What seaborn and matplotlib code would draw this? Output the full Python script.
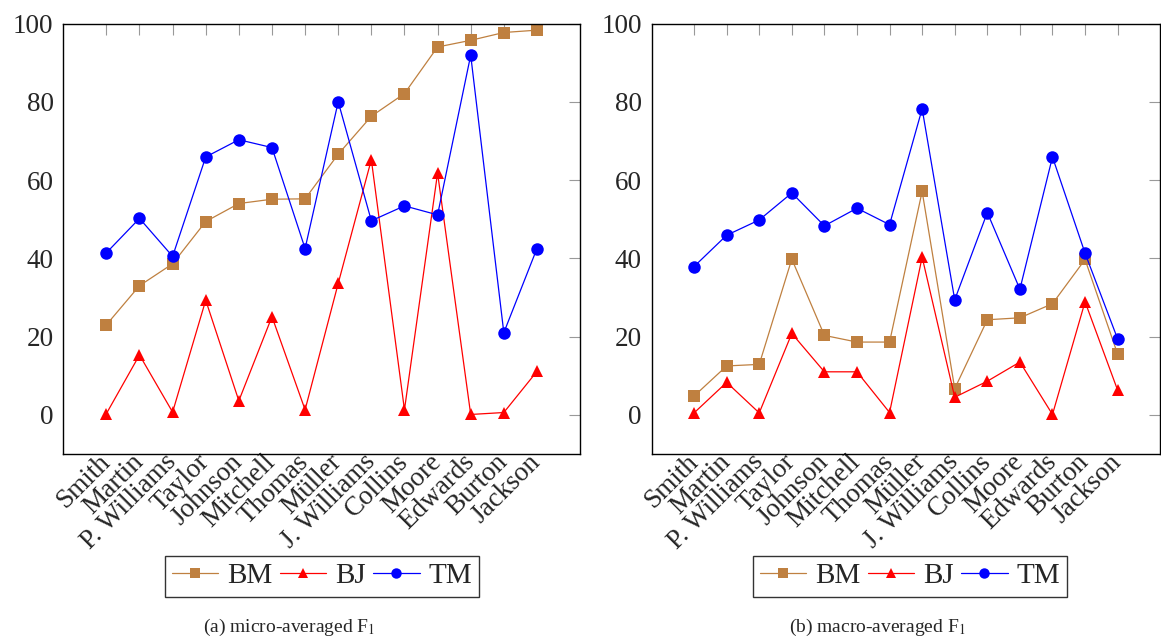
import numpy as np
import pandas as pd
import seaborn as sns
import matplotlib.pyplot as plt
from matplotlib.lines import Line2D

sns.set_style("white")
plt.rcParams['font.family'] = ['Liberation Serif', 'DejaVu Serif']
plt.rcParams['mathtext.fontset'] = 'stix'

# dados
nomes = ['Smith', 'Martin', 'P. Williams', 'Taylor', 'Johnson', 'Mitchell', 'Thomas',
         'Müller', 'J. Williams', 'Collins', 'Moore', 'Edwards', 'Burton', 'Jackson']

micro_bm = [23.0, 33.0, 38.6, 49.4, 54.0, 55.1, 55.2, 66.6, 76.3, 82.1, 94.0, 95.7, 97.7, 98.3]
micro_bj = [0.3, 15.3, 0.7, 29.3, 3.6, 25.1, 1.3, 33.6, 65.2, 1.3, 61.8, 0.1, 0.6, 11.1]
micro_tm = [41.4, 50.2, 40.5, 65.9, 70.3, 68.3, 42.5, 80.0, 49.6, 53.4, 51.1, 91.9, 21.0, 42.5]

macro_bm = [4.8, 12.5, 12.9, 39.8, 20.3, 18.6, 18.6, 57.1, 6.7, 24.3, 24.8, 28.4, 39.7, 15.5]
macro_bj = [0.5, 8.3, 0.5, 20.8, 11.0, 11.0, 0.6, 40.3, 4.5, 8.6, 13.5, 0.1, 28.9, 6.3]
macro_tm = [37.9, 45.9, 49.8, 56.7, 48.3, 52.8, 48.6, 78.2, 29.4, 51.7, 32.1, 65.9, 41.3, 19.4]

series = ['BM', 'BJ', 'TM']
cores = {'BM': '#BF8040', 'BJ': '#FF0000', 'TM': '#0000FF'}
marcadores = {'BM': 's', 'BJ': '^', 'TM': 'o'}
tam = {'BM': 8.5, 'BJ': 8, 'TM': 9}

paineis = [
    ('(a) micro-averaged F$_1$', {'BM': micro_bm, 'BJ': micro_bj, 'TM': micro_tm}),
    ('(b) macro-averaged F$_1$', {'BM': macro_bm, 'BJ': macro_bj, 'TM': macro_tm}),
]

fig = plt.figure(figsize=(11.61, 6.37), dpi=100)
posicoes = [[63.3 / 1161, 1 - 454 / 637, (580 - 63.3) / 1161, (454 - 23.5) / 637],
            [651.7 / 1161, 1 - 454 / 637, (1160 - 651.7) / 1161, (454 - 23.5) / 637]]
centros_legenda = [(322 / 1161, 1 - 576 / 637), (910 / 1161, 1 - 576 / 637)]
centros_legenda_cap = [289 / 1161, 877 / 1161]

idx = np.arange(len(nomes))

for i, (legenda, dados) in enumerate(paineis):
    ax = fig.add_axes(posicoes[i])
    df = pd.DataFrame({'idx': idx, **dados})
    for s in series:
        sns.lineplot(data=df, x='idx', y=s, ax=ax, color=cores[s], marker=marcadores[s],
                     markersize=tam[s], markeredgewidth=0, linewidth=0.9)
    ax.set_xlim(-1.3, 14.3)
    ax.set_ylim(-10, 100)
    ax.set_yticks([0, 20, 40, 60, 80, 100])
    ax.set_xticks(idx)
    ax.set_xticklabels(nomes, rotation=45, ha='right', va='center', rotation_mode='anchor')
    ax.set_xlabel('')
    ax.set_ylabel('')
    ax.tick_params(axis='both', direction='in', length=8, width=0.8, color='#999999',
                   top=True, right=True, labelsize=19.5)
    ax.tick_params(axis='y', pad=7)
    ax.tick_params(axis='x', pad=3)
    for sp in ax.spines.values():
        sp.set_color('black')
        sp.set_linewidth(1.0)

    handles = [Line2D([], [], color=cores[s], marker=marcadores[s], markersize=tam[s] - 1.5,
                      markeredgewidth=0, linewidth=0.9) for s in series]
    fig.legend(handles, series, loc='center', bbox_to_anchor=centros_legenda[i], ncol=3,
               fontsize=21, frameon=True, fancybox=False, edgecolor='black',
               handlelength=1.6, handletextpad=0.3, columnspacing=0.25, borderpad=0.25)
    fig.text(centros_legenda_cap[i], 1 - 627 / 637, legenda, ha='center', va='center', fontsize=14)

fig.savefig('out.png', dpi=100)
